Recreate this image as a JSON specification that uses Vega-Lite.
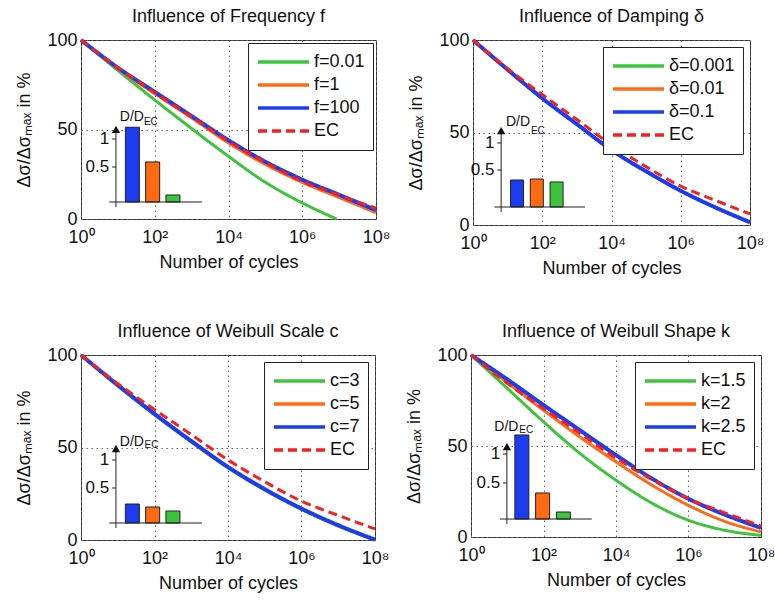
{
"$schema": "https://vega.github.io/schema/vega-lite/v6.json",
"padding": {"left": 15, "top": 7, "right": 0, "bottom": 0},
"datasets": {
"p1": [
{"s":"f=0.01","N":1,"v":100},{"s":"f=0.01","N":10,"v":83},{"s":"f=0.01","N":100,"v":66.5},{"s":"f=0.01","N":1000,"v":50.5},{"s":"f=0.01","N":10000,"v":35},{"s":"f=0.01","N":100000,"v":20.5},{"s":"f=0.01","N":1000000,"v":9},{"s":"f=0.01","N":8500000,"v":0},
{"s":"f=1","N":1,"v":100},{"s":"f=1","N":10,"v":84},{"s":"f=1","N":100,"v":70},{"s":"f=1","N":1000,"v":56.5},{"s":"f=1","N":10000,"v":42.5},{"s":"f=1","N":100000,"v":30.5},{"s":"f=1","N":1000000,"v":20.5},{"s":"f=1","N":10000000,"v":12},{"s":"f=1","N":100000000,"v":3.5},
{"s":"f=100","N":1,"v":100},{"s":"f=100","N":10,"v":84.5},{"s":"f=100","N":100,"v":71},{"s":"f=100","N":1000,"v":57.5},{"s":"f=100","N":10000,"v":44},{"s":"f=100","N":100000,"v":32},{"s":"f=100","N":1000000,"v":22},{"s":"f=100","N":10000000,"v":13.5},{"s":"f=100","N":100000000,"v":5},
{"s":"EC","N":1,"v":100},{"s":"EC","N":10,"v":84.5},{"s":"EC","N":100,"v":70.5},{"s":"EC","N":1000,"v":57},{"s":"EC","N":10000,"v":43.3},{"s":"EC","N":100000,"v":31.5},{"s":"EC","N":1000000,"v":21},{"s":"EC","N":10000000,"v":13.3},{"s":"EC","N":100000000,"v":6}
],
"p2": [
{"s":"δ=0.001","N":1,"v":100},{"s":"δ=0.001","N":10,"v":84},{"s":"δ=0.001","N":100,"v":68.5},{"s":"δ=0.001","N":1000,"v":54.5},{"s":"δ=0.001","N":10000,"v":40.5},{"s":"δ=0.001","N":100000,"v":29},{"s":"δ=0.001","N":1000000,"v":18.5},{"s":"δ=0.001","N":10000000,"v":9.5},{"s":"δ=0.001","N":100000000,"v":1.5},
{"s":"δ=0.01","N":1,"v":100},{"s":"δ=0.01","N":10,"v":84},{"s":"δ=0.01","N":100,"v":68.5},{"s":"δ=0.01","N":1000,"v":54.5},{"s":"δ=0.01","N":10000,"v":40.5},{"s":"δ=0.01","N":100000,"v":29},{"s":"δ=0.01","N":1000000,"v":18.5},{"s":"δ=0.01","N":10000000,"v":9.5},{"s":"δ=0.01","N":100000000,"v":1.5},
{"s":"δ=0.1","N":1,"v":100},{"s":"δ=0.1","N":10,"v":84},{"s":"δ=0.1","N":100,"v":68.5},{"s":"δ=0.1","N":1000,"v":54.5},{"s":"δ=0.1","N":10000,"v":40.5},{"s":"δ=0.1","N":100000,"v":29},{"s":"δ=0.1","N":1000000,"v":18.5},{"s":"δ=0.1","N":10000000,"v":9.5},{"s":"δ=0.1","N":100000000,"v":1.5},
{"s":"EC","N":1,"v":100},{"s":"EC","N":10,"v":84.5},{"s":"EC","N":100,"v":70.5},{"s":"EC","N":1000,"v":57},{"s":"EC","N":10000,"v":43.3},{"s":"EC","N":100000,"v":31.5},{"s":"EC","N":1000000,"v":21},{"s":"EC","N":10000000,"v":13.3},{"s":"EC","N":100000000,"v":6}
],
"p3": [
{"s":"c=3","N":1,"v":100},{"s":"c=3","N":10,"v":83.3},{"s":"c=3","N":100,"v":67.7},{"s":"c=3","N":1000,"v":53},{"s":"c=3","N":10000,"v":39},{"s":"c=3","N":100000,"v":27},{"s":"c=3","N":1000000,"v":16.5},{"s":"c=3","N":10000000,"v":7.5},{"s":"c=3","N":100000000,"v":0},
{"s":"c=5","N":1,"v":100},{"s":"c=5","N":10,"v":83.5},{"s":"c=5","N":100,"v":68},{"s":"c=5","N":1000,"v":53.3},{"s":"c=5","N":10000,"v":39.3},{"s":"c=5","N":100000,"v":27.3},{"s":"c=5","N":1000000,"v":16.8},{"s":"c=5","N":10000000,"v":7.8},{"s":"c=5","N":100000000,"v":0},
{"s":"c=7","N":1,"v":100},{"s":"c=7","N":10,"v":83.8},{"s":"c=7","N":100,"v":68.2},{"s":"c=7","N":1000,"v":53.5},{"s":"c=7","N":10000,"v":39.5},{"s":"c=7","N":100000,"v":27.5},{"s":"c=7","N":1000000,"v":17},{"s":"c=7","N":10000000,"v":8},{"s":"c=7","N":100000000,"v":0.2},
{"s":"EC","N":1,"v":100},{"s":"EC","N":10,"v":84.5},{"s":"EC","N":100,"v":70.5},{"s":"EC","N":1000,"v":57},{"s":"EC","N":10000,"v":43.3},{"s":"EC","N":100000,"v":31.5},{"s":"EC","N":1000000,"v":21},{"s":"EC","N":10000000,"v":13.3},{"s":"EC","N":100000000,"v":6}
],
"p4": [
{"s":"k=1.5","N":1,"v":100},{"s":"k=1.5","N":10,"v":81.7},{"s":"k=1.5","N":100,"v":63.3},{"s":"k=1.5","N":1000,"v":46},{"s":"k=1.5","N":10000,"v":31.2},{"s":"k=1.5","N":100000,"v":18.5},{"s":"k=1.5","N":1000000,"v":9.2},{"s":"k=1.5","N":10000000,"v":3.7},{"s":"k=1.5","N":100000000,"v":0.9},
{"s":"k=2","N":1,"v":100},{"s":"k=2","N":10,"v":84.8},{"s":"k=2","N":100,"v":69.7},{"s":"k=2","N":1000,"v":55},{"s":"k=2","N":10000,"v":41.3},{"s":"k=2","N":100000,"v":28.4},{"s":"k=2","N":1000000,"v":17.4},{"s":"k=2","N":10000000,"v":8.6},{"s":"k=2","N":100000000,"v":2.8},
{"s":"k=2.5","N":1,"v":100},{"s":"k=2.5","N":10,"v":86.6},{"s":"k=2.5","N":100,"v":72.5},{"s":"k=2.5","N":1000,"v":58.7},{"s":"k=2.5","N":10000,"v":45},{"s":"k=2.5","N":100000,"v":32},{"s":"k=2.5","N":1000000,"v":21},{"s":"k=2.5","N":10000000,"v":12.3},{"s":"k=2.5","N":100000000,"v":5},
{"s":"EC","N":1,"v":100},{"s":"EC","N":10,"v":84.5},{"s":"EC","N":100,"v":70.5},{"s":"EC","N":1000,"v":57},{"s":"EC","N":10000,"v":43.3},{"s":"EC","N":100000,"v":31.5},{"s":"EC","N":1000000,"v":21},{"s":"EC","N":10000000,"v":13.3},{"s":"EC","N":100000000,"v":6}
],
"b1": [{"i":1,"s":"f=100","D":1.21},{"i":2,"s":"f=1","D":0.59},{"i":3,"s":"f=0.01","D":0.0}],
"b2": [{"i":1,"s":"δ=0.1","D":0.315},{"i":2,"s":"δ=0.01","D":0.333},{"i":3,"s":"δ=0.001","D":0.278}],
"b3": [{"i":1,"s":"c=7","D":0.214},{"i":2,"s":"c=5","D":0.161},{"i":3,"s":"c=3","D":0.089}],
"b4": [{"i":1,"s":"k=2.5","D":1.328},{"i":2,"s":"k=2","D":0.328},{"i":3,"s":"k=1.5","D":0.0}],
"ticks": [{"t":1,"lab":"1"},{"t":0.5,"lab":"0.5"}]
},
"vconcat": [
{"hconcat": [
{
"width": 295, "height": 179, "title": "Influence of Frequency f",
"layer": [
{"data": {"name": "p1"},
"encoding": {
"x": {"field":"N","type":"quantitative","scale":{"type":"log","domain":[1,100000000],"nice":false},"axis":{"values":[1,100,10000,1000000,100000000],"labelExpr":"datum.value==1?'10⁰':datum.value==100?'10²':datum.value==10000?'10⁴':datum.value==1000000?'10⁶':'10⁸'","title":"Number of cycles"}},
"y": {"field":"v","type":"quantitative","scale":{"domain":[0,100],"nice":false,"zero":false},"axis":{"values":[0,50,100],"title":"Δσ/Δσₘₐₓ in %"}},
"color": {"field":"s","type":"nominal","scale":{"domain":["f=0.01","f=1","f=100","EC"],"range":["#3cc43c","#ff6a13","#1c3cf0","#f52020"]},"legend":{"title":null,"offset":3}},
"strokeDash": {"field":"s","type":"nominal","scale":{"domain":["f=0.01","f=1","f=100","EC"],"range":[[1,0],[1,0],[1,0],[9,5]]},"legend":{"title":null,"offset":3}}
},
"layer": [
{"transform":[{"filter":{"field":"s","equal":"f=0.01"}}],"mark":{"type":"line","strokeWidth":3,"interpolate":"monotone"}},
{"transform":[{"filter":{"field":"s","equal":"f=1"}}],"mark":{"type":"line","strokeWidth":3,"interpolate":"monotone"}},
{"transform":[{"filter":{"field":"s","equal":"f=100"}}],"mark":{"type":"line","strokeWidth":4,"interpolate":"monotone"}},
{"transform":[{"filter":{"field":"s","equal":"EC"}}],"mark":{"type":"line","strokeWidth":3,"interpolate":"monotone"}}
]},
{"layer": [
{"data":{"name":"b1"},"mark":{"type":"bar","width":14,"stroke":"#222","strokeWidth":1},
"encoding":{"x":{"field":"i","type":"quantitative","scale":{"domain":[-1.286,12.762],"nice":false,"zero":false},"axis":null},
"y":{"field":"D","type":"quantitative","scale":{"domain":[-0.4286,2.768],"nice":false,"zero":false},"axis":null},
"y2":{"datum":-0.125},
"fill":{"field":"s","type":"nominal","scale":{"domain":["f=0.01","f=1","f=100"],"range":["#3cc43c","#ff6a13","#1c3cf0"]},"legend":null}}},
{"data":{"values":[{}]},"mark":{"type":"rule","color":"#222","strokeWidth":1},
"encoding":{"x":{"datum":-0.143,"type":"quantitative","scale":{"domain":[-1.286,12.762],"nice":false,"zero":false},"axis":null},"x2":{"datum":4.428},
"y":{"datum":-0.125,"type":"quantitative","scale":{"domain":[-0.4286,2.768],"nice":false,"zero":false},"axis":null}}},
{"data":{"values":[{}]},"mark":{"type":"rule","color":"#222","strokeWidth":1},
"encoding":{"x":{"datum":0.19,"type":"quantitative","scale":{"domain":[-1.286,12.762],"nice":false,"zero":false},"axis":null},
"y":{"datum":-0.214,"type":"quantitative","scale":{"domain":[-0.4286,2.768],"nice":false,"zero":false},"axis":null},"y2":{"datum":1.17}}},
{"data":{"values":[{}]},"mark":{"type":"point","shape":"triangle-up","filled":true,"color":"#111","size":70,"opacity":1},
"encoding":{"x":{"datum":0.19,"type":"quantitative","scale":{"domain":[-1.286,12.762],"nice":false,"zero":false},"axis":null},
"y":{"datum":1.17,"type":"quantitative","scale":{"domain":[-0.4286,2.768],"nice":false,"zero":false},"axis":null}}},
{"data":{"name":"ticks"},"mark":{"type":"rule","color":"#222","strokeWidth":1},
"encoding":{"x":{"datum":0.0,"type":"quantitative","scale":{"domain":[-1.286,12.762],"nice":false,"zero":false},"axis":null},"x2":{"datum":0.19},
"y":{"field":"t","type":"quantitative","scale":{"domain":[-0.4286,2.768],"nice":false,"zero":false},"axis":null}}},
{"data":{"name":"ticks"},"mark":{"type":"text","align":"right","baseline":"middle","fontSize":17,"font":"Liberation Sans","color":"#111"},
"encoding":{"x":{"datum":-0.143,"type":"quantitative","scale":{"domain":[-1.286,12.762],"nice":false,"zero":false},"axis":null},
"y":{"field":"t","type":"quantitative","scale":{"domain":[-0.4286,2.768],"nice":false,"zero":false},"axis":null},"text":{"field":"lab"}}},
{"data":{"values":[{"lab":"D/D"}]},"mark":{"type":"text","align":"left","baseline":"middle","fontSize":14,"font":"Liberation Sans","color":"#111"},
"encoding":{"x":{"datum":0.381,"type":"quantitative","scale":{"domain":[-1.286,12.762],"nice":false,"zero":false},"axis":null},
"y":{"datum":1.393,"type":"quantitative","scale":{"domain":[-0.4286,2.768],"nice":false,"zero":false},"axis":null},"text":{"field":"lab"}}},
{"data":{"values":[{"lab":"EC"}]},"mark":{"type":"text","align":"left","baseline":"middle","fontSize":10,"font":"Liberation Sans","color":"#111"},
"encoding":{"x":{"datum":1.57,"type":"quantitative","scale":{"domain":[-1.286,12.762],"nice":false,"zero":false},"axis":null},
"y":{"datum":1.31,"type":"quantitative","scale":{"domain":[-0.4286,2.768],"nice":false,"zero":false},"axis":null},"text":{"field":"lab"}}}
]}
],
"resolve": {"scale": {"x": "independent", "y": "independent"}}
},
{
"width": 277, "height": 185, "title": "Influence of Damping δ",
"layer": [
{"data": {"name": "p2"},
"encoding": {
"x": {"field":"N","type":"quantitative","scale":{"type":"log","domain":[1,100000000],"nice":false},"axis":{"values":[1,100,10000,1000000,100000000],"labelExpr":"datum.value==1?'10⁰':datum.value==100?'10²':datum.value==10000?'10⁴':datum.value==1000000?'10⁶':'10⁸'","title":"Number of cycles"}},
"y": {"field":"v","type":"quantitative","scale":{"domain":[0,100],"nice":false,"zero":false},"axis":{"values":[0,50,100],"title":"Δσ/Δσₘₐₓ in %"}},
"color": {"field":"s","type":"nominal","scale":{"domain":["δ=0.001","δ=0.01","δ=0.1","EC"],"range":["#3cc43c","#ff6a13","#1c3cf0","#f52020"]},"legend":{"title":null}},
"strokeDash": {"field":"s","type":"nominal","scale":{"domain":["δ=0.001","δ=0.01","δ=0.1","EC"],"range":[[1,0],[1,0],[1,0],[9,5]]},"legend":{"title":null}}
},
"layer": [
{"transform":[{"filter":{"field":"s","equal":"δ=0.001"}}],"mark":{"type":"line","strokeWidth":3,"interpolate":"monotone"}},
{"transform":[{"filter":{"field":"s","equal":"δ=0.01"}}],"mark":{"type":"line","strokeWidth":3,"interpolate":"monotone"}},
{"transform":[{"filter":{"field":"s","equal":"δ=0.1"}}],"mark":{"type":"line","strokeWidth":4,"interpolate":"monotone"}},
{"transform":[{"filter":{"field":"s","equal":"EC"}}],"mark":{"type":"line","strokeWidth":3,"interpolate":"monotone"}}
]},
{"layer": [
{"data":{"name":"b2"},"mark":{"type":"bar","width":13,"stroke":"#222","strokeWidth":1},
"encoding":{"x":{"field":"i","type":"quantitative","scale":{"domain":[-0.976,12.536],"nice":false,"zero":false},"axis":null},
"y":{"field":"D","type":"quantitative","scale":{"domain":[-0.5185,2.907],"nice":false,"zero":false},"axis":null},
"y2":{"datum":-0.185},
"fill":{"field":"s","type":"nominal","scale":{"domain":["δ=0.001","δ=0.01","δ=0.1"],"range":["#3cc43c","#ff6a13","#1c3cf0"]},"legend":null}}},
{"data":{"values":[{}]},"mark":{"type":"rule","color":"#222","strokeWidth":1},
"encoding":{"x":{"datum":-0.146,"type":"quantitative","scale":{"domain":[-0.976,12.536],"nice":false,"zero":false},"axis":null},"x2":{"datum":4.439},
"y":{"datum":-0.185,"type":"quantitative","scale":{"domain":[-0.5185,2.907],"nice":false,"zero":false},"axis":null}}},
{"data":{"values":[{}]},"mark":{"type":"rule","color":"#222","strokeWidth":1},
"encoding":{"x":{"datum":0.195,"type":"quantitative","scale":{"domain":[-0.976,12.536],"nice":false,"zero":false},"axis":null},
"y":{"datum":-0.278,"type":"quantitative","scale":{"domain":[-0.5185,2.907],"nice":false,"zero":false},"axis":null},"y2":{"datum":1.231}}},
{"data":{"values":[{}]},"mark":{"type":"point","shape":"triangle-up","filled":true,"color":"#111","size":70,"opacity":1},
"encoding":{"x":{"datum":0.195,"type":"quantitative","scale":{"domain":[-0.976,12.536],"nice":false,"zero":false},"axis":null},
"y":{"datum":1.231,"type":"quantitative","scale":{"domain":[-0.5185,2.907],"nice":false,"zero":false},"axis":null}}},
{"data":{"name":"ticks"},"mark":{"type":"rule","color":"#222","strokeWidth":1},
"encoding":{"x":{"datum":0.0,"type":"quantitative","scale":{"domain":[-0.976,12.536],"nice":false,"zero":false},"axis":null},"x2":{"datum":0.195},
"y":{"field":"t","type":"quantitative","scale":{"domain":[-0.5185,2.907],"nice":false,"zero":false},"axis":null}}},
{"data":{"name":"ticks"},"mark":{"type":"text","align":"right","baseline":"middle","fontSize":17,"font":"Liberation Sans","color":"#111"},
"encoding":{"x":{"datum":-0.146,"type":"quantitative","scale":{"domain":[-0.976,12.536],"nice":false,"zero":false},"axis":null},
"y":{"field":"t","type":"quantitative","scale":{"domain":[-0.5185,2.907],"nice":false,"zero":false},"axis":null},"text":{"field":"lab"}}},
{"data":{"values":[{"lab":"D/D"}]},"mark":{"type":"text","align":"left","baseline":"middle","fontSize":14,"font":"Liberation Sans","color":"#111"},
"encoding":{"x":{"datum":0.439,"type":"quantitative","scale":{"domain":[-0.976,12.536],"nice":false,"zero":false},"axis":null},
"y":{"datum":1.389,"type":"quantitative","scale":{"domain":[-0.5185,2.907],"nice":false,"zero":false},"axis":null},"text":{"field":"lab"}}},
{"data":{"values":[{"lab":"EC"}]},"mark":{"type":"text","align":"left","baseline":"middle","fontSize":10,"font":"Liberation Sans","color":"#111"},
"encoding":{"x":{"datum":1.7,"type":"quantitative","scale":{"domain":[-0.976,12.536],"nice":false,"zero":false},"axis":null},
"y":{"datum":1.23,"type":"quantitative","scale":{"domain":[-0.5185,2.907],"nice":false,"zero":false},"axis":null},"text":{"field":"lab"}}}
]}
],
"resolve": {"scale": {"x": "independent", "y": "independent"}}
}
], "spacing": 16,
"resolve": {"scale": {"x":"independent","y":"independent","color":"independent","strokeDash":"independent","fill":"independent"},"legend":{"color":"independent","strokeDash":"independent"}}},
{"hconcat": [
{
"width": 294, "height": 185, "title": "Influence of Weibull Scale c",
"layer": [
{"data": {"name": "p3"},
"encoding": {
"x": {"field":"N","type":"quantitative","scale":{"type":"log","domain":[1,100000000],"nice":false},"axis":{"values":[1,100,10000,1000000,100000000],"labelExpr":"datum.value==1?'10⁰':datum.value==100?'10²':datum.value==10000?'10⁴':datum.value==1000000?'10⁶':'10⁸'","title":"Number of cycles"}},
"y": {"field":"v","type":"quantitative","scale":{"domain":[0,100],"nice":false,"zero":false},"axis":{"values":[0,50,100],"title":"Δσ/Δσₘₐₓ in %"}},
"color": {"field":"s","type":"nominal","scale":{"domain":["c=3","c=5","c=7","EC"],"range":["#3cc43c","#ff6a13","#1c3cf0","#f52020"]},"legend":{"title":null}},
"strokeDash": {"field":"s","type":"nominal","scale":{"domain":["c=3","c=5","c=7","EC"],"range":[[1,0],[1,0],[1,0],[9,5]]},"legend":{"title":null}}
},
"layer": [
{"transform":[{"filter":{"field":"s","equal":"c=3"}}],"mark":{"type":"line","strokeWidth":3,"interpolate":"monotone"}},
{"transform":[{"filter":{"field":"s","equal":"c=5"}}],"mark":{"type":"line","strokeWidth":3,"interpolate":"monotone"}},
{"transform":[{"filter":{"field":"s","equal":"c=7"}}],"mark":{"type":"line","strokeWidth":4,"interpolate":"monotone"}},
{"transform":[{"filter":{"field":"s","equal":"EC"}}],"mark":{"type":"line","strokeWidth":3,"interpolate":"monotone"}}
]},
{"layer": [
{"data":{"name":"b3"},"mark":{"type":"bar","width":14,"stroke":"#222","strokeWidth":1},
"encoding":{"x":{"field":"i","type":"quantitative","scale":{"domain":[-1.286,12.714],"nice":false,"zero":false},"axis":null},
"y":{"field":"D","type":"quantitative","scale":{"domain":[-0.4286,2.875],"nice":false,"zero":false},"axis":null},
"y2":{"datum":-0.125},
"fill":{"field":"s","type":"nominal","scale":{"domain":["c=3","c=5","c=7"],"range":["#3cc43c","#ff6a13","#1c3cf0"]},"legend":null}}},
{"data":{"values":[{}]},"mark":{"type":"rule","color":"#222","strokeWidth":1},
"encoding":{"x":{"datum":-0.143,"type":"quantitative","scale":{"domain":[-1.286,12.714],"nice":false,"zero":false},"axis":null},"x2":{"datum":4.428},
"y":{"datum":-0.125,"type":"quantitative","scale":{"domain":[-0.4286,2.875],"nice":false,"zero":false},"axis":null}}},
{"data":{"values":[{}]},"mark":{"type":"rule","color":"#222","strokeWidth":1},
"encoding":{"x":{"datum":0.19,"type":"quantitative","scale":{"domain":[-1.286,12.714],"nice":false,"zero":false},"axis":null},
"y":{"datum":-0.214,"type":"quantitative","scale":{"domain":[-0.4286,2.875],"nice":false,"zero":false},"axis":null},"y2":{"datum":1.205}}},
{"data":{"values":[{}]},"mark":{"type":"point","shape":"triangle-up","filled":true,"color":"#111","size":70,"opacity":1},
"encoding":{"x":{"datum":0.19,"type":"quantitative","scale":{"domain":[-1.286,12.714],"nice":false,"zero":false},"axis":null},
"y":{"datum":1.205,"type":"quantitative","scale":{"domain":[-0.4286,2.875],"nice":false,"zero":false},"axis":null}}},
{"data":{"name":"ticks"},"mark":{"type":"rule","color":"#222","strokeWidth":1},
"encoding":{"x":{"datum":0.0,"type":"quantitative","scale":{"domain":[-1.286,12.714],"nice":false,"zero":false},"axis":null},"x2":{"datum":0.19},
"y":{"field":"t","type":"quantitative","scale":{"domain":[-0.4286,2.875],"nice":false,"zero":false},"axis":null}}},
{"data":{"name":"ticks"},"mark":{"type":"text","align":"right","baseline":"middle","fontSize":17,"font":"Liberation Sans","color":"#111"},
"encoding":{"x":{"datum":-0.143,"type":"quantitative","scale":{"domain":[-1.286,12.714],"nice":false,"zero":false},"axis":null},
"y":{"field":"t","type":"quantitative","scale":{"domain":[-0.4286,2.875],"nice":false,"zero":false},"axis":null},"text":{"field":"lab"}}},
{"data":{"values":[{"lab":"D/D"}]},"mark":{"type":"text","align":"left","baseline":"middle","fontSize":14,"font":"Liberation Sans","color":"#111"},
"encoding":{"x":{"datum":0.381,"type":"quantitative","scale":{"domain":[-1.286,12.714],"nice":false,"zero":false},"axis":null},
"y":{"datum":1.321,"type":"quantitative","scale":{"domain":[-0.4286,2.875],"nice":false,"zero":false},"axis":null},"text":{"field":"lab"}}},
{"data":{"values":[{"lab":"EC"}]},"mark":{"type":"text","align":"left","baseline":"middle","fontSize":10,"font":"Liberation Sans","color":"#111"},
"encoding":{"x":{"datum":1.6,"type":"quantitative","scale":{"domain":[-1.286,12.714],"nice":false,"zero":false},"axis":null},
"y":{"datum":1.26,"type":"quantitative","scale":{"domain":[-0.4286,2.875],"nice":false,"zero":false},"axis":null},"text":{"field":"lab"}}}
]}
],
"resolve": {"scale": {"x": "independent", "y": "independent"}}
},
{
"width": 290, "height": 182, "title": "Influence of Weibull Shape k",
"layer": [
{"data": {"name": "p4"},
"encoding": {
"x": {"field":"N","type":"quantitative","scale":{"type":"log","domain":[1,100000000],"nice":false},"axis":{"values":[1,100,10000,1000000,100000000],"labelExpr":"datum.value==1?'10⁰':datum.value==100?'10²':datum.value==10000?'10⁴':datum.value==1000000?'10⁶':'10⁸'","title":"Number of cycles"}},
"y": {"field":"v","type":"quantitative","scale":{"domain":[0,100],"nice":false,"zero":false},"axis":{"values":[0,50,100],"title":"Δσ/Δσₘₐₓ in %"}},
"color": {"field":"s","type":"nominal","scale":{"domain":["k=1.5","k=2","k=2.5","EC"],"range":["#3cc43c","#ff6a13","#1c3cf0","#f52020"]},"legend":{"title":null}},
"strokeDash": {"field":"s","type":"nominal","scale":{"domain":["k=1.5","k=2","k=2.5","EC"],"range":[[1,0],[1,0],[1,0],[9,5]]},"legend":{"title":null}}
},
"layer": [
{"transform":[{"filter":{"field":"s","equal":"k=1.5"}}],"mark":{"type":"line","strokeWidth":3,"interpolate":"monotone"}},
{"transform":[{"filter":{"field":"s","equal":"k=2"}}],"mark":{"type":"line","strokeWidth":3,"interpolate":"monotone"}},
{"transform":[{"filter":{"field":"s","equal":"k=2.5"}}],"mark":{"type":"line","strokeWidth":4,"interpolate":"monotone"}},
{"transform":[{"filter":{"field":"s","equal":"EC"}}],"mark":{"type":"line","strokeWidth":3,"interpolate":"monotone"}}
]},
{"layer": [
{"data":{"name":"b4"},"mark":{"type":"bar","width":14,"stroke":"#222","strokeWidth":1},
"encoding":{"x":{"field":"i","type":"quantitative","scale":{"domain":[-1.209,12.279],"nice":false,"zero":false},"axis":null},
"y":{"field":"D","type":"quantitative","scale":{"domain":[-0.431,2.707],"nice":false,"zero":false},"axis":null},
"y2":{"datum":-0.121},
"fill":{"field":"s","type":"nominal","scale":{"domain":["k=1.5","k=2","k=2.5"],"range":["#3cc43c","#ff6a13","#1c3cf0"]},"legend":null}}},
{"data":{"values":[{}]},"mark":{"type":"rule","color":"#222","strokeWidth":1},
"encoding":{"x":{"datum":-0.046,"type":"quantitative","scale":{"domain":[-1.209,12.279],"nice":false,"zero":false},"axis":null},"x2":{"datum":4.372},
"y":{"datum":-0.121,"type":"quantitative","scale":{"domain":[-0.431,2.707],"nice":false,"zero":false},"axis":null}}},
{"data":{"values":[{}]},"mark":{"type":"rule","color":"#222","strokeWidth":1},
"encoding":{"x":{"datum":0.279,"type":"quantitative","scale":{"domain":[-1.209,12.279],"nice":false,"zero":false},"axis":null},
"y":{"datum":-0.207,"type":"quantitative","scale":{"domain":[-0.431,2.707],"nice":false,"zero":false},"axis":null},"y2":{"datum":1.129}}},
{"data":{"values":[{}]},"mark":{"type":"point","shape":"triangle-up","filled":true,"color":"#111","size":70,"opacity":1},
"encoding":{"x":{"datum":0.279,"type":"quantitative","scale":{"domain":[-1.209,12.279],"nice":false,"zero":false},"axis":null},
"y":{"datum":1.129,"type":"quantitative","scale":{"domain":[-0.431,2.707],"nice":false,"zero":false},"axis":null}}},
{"data":{"name":"ticks"},"mark":{"type":"rule","color":"#222","strokeWidth":1},
"encoding":{"x":{"datum":0.093,"type":"quantitative","scale":{"domain":[-1.209,12.279],"nice":false,"zero":false},"axis":null},"x2":{"datum":0.279},
"y":{"field":"t","type":"quantitative","scale":{"domain":[-0.431,2.707],"nice":false,"zero":false},"axis":null}}},
{"data":{"name":"ticks"},"mark":{"type":"text","align":"right","baseline":"middle","fontSize":17,"font":"Liberation Sans","color":"#111"},
"encoding":{"x":{"datum":-0.047,"type":"quantitative","scale":{"domain":[-1.209,12.279],"nice":false,"zero":false},"axis":null},
"y":{"field":"t","type":"quantitative","scale":{"domain":[-0.431,2.707],"nice":false,"zero":false},"axis":null},"text":{"field":"lab"}}},
{"data":{"values":[{"lab":"D/D"}]},"mark":{"type":"text","align":"left","baseline":"middle","fontSize":14,"font":"Liberation Sans","color":"#111"},
"encoding":{"x":{"datum":-0.325,"type":"quantitative","scale":{"domain":[-1.209,12.279],"nice":false,"zero":false},"axis":null},
"y":{"datum":1.466,"type":"quantitative","scale":{"domain":[-0.431,2.707],"nice":false,"zero":false},"axis":null},"text":{"field":"lab"}}},
{"data":{"values":[{"lab":"EC"}]},"mark":{"type":"text","align":"left","baseline":"middle","fontSize":10,"font":"Liberation Sans","color":"#111"},
"encoding":{"x":{"datum":0.88,"type":"quantitative","scale":{"domain":[-1.209,12.279],"nice":false,"zero":false},"axis":null},
"y":{"datum":1.41,"type":"quantitative","scale":{"domain":[-0.431,2.707],"nice":false,"zero":false},"axis":null},"text":{"field":"lab"}}}
]}
],
"resolve": {"scale": {"x": "independent", "y": "independent"}}
}
], "spacing": 15,
"resolve": {"scale": {"x":"independent","y":"independent","color":"independent","strokeDash":"independent","fill":"independent"},"legend":{"color":"independent","strokeDash":"independent"}}}
],
"spacing": 44,
"resolve": {"scale": {"x":"independent","y":"independent","color":"independent","strokeDash":"independent","fill":"independent"},"legend":{"color":"independent","strokeDash":"independent"}},
"config": {
"font": "Liberation Sans",
"background": "white",
"view": {"stroke": "#333", "strokeWidth": 1},
"axis": {"labelFont":"Liberation Sans","labelFontSize":18,"titleFont":"Liberation Sans","titleFontSize":18,"titleFontWeight":"normal","labelColor":"#111","titleColor":"#111","domain":false,"ticks":false,"grid":true,"gridColor":"#666","gridDash":[1.5,3.5],"gridWidth":1,"labelFlush":false,"labelOverlap":false},
"axisX": {"labelPadding":9,"titlePadding":7},
"axisY": {"labelPadding":4,"titlePadding":13},
"title": {"font":"Liberation Sans","fontSize":18,"fontWeight":"normal","color":"#111","offset":5},
"legend": {"orient":"top-right","offset":7,"strokeColor":"#222","fillColor":"white","padding":8,"symbolType":"stroke","symbolSize":2600,"symbolStrokeWidth":3.5,"labelFont":"Liberation Sans","labelFontSize":18,"labelColor":"#111","clipHeight":22,"labelOffset":3,"rowPadding":1,"cornerRadius":0,"labelLimit":200}
}
}
